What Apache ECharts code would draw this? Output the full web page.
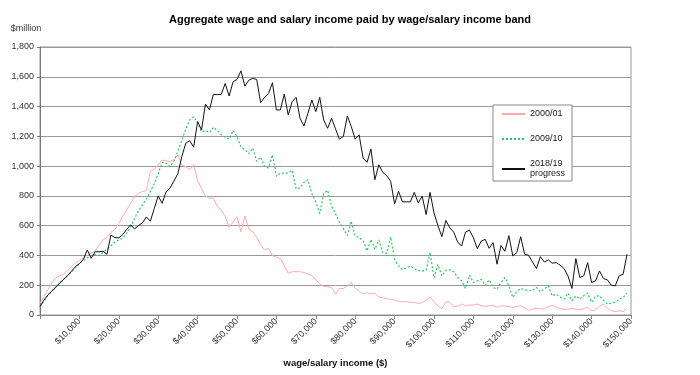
<!DOCTYPE html>
<html>
<head>
<meta charset="utf-8">
<script src="https://cdn.jsdelivr.net/npm/echarts@6/dist/echarts.min.js"></script>
<style>
  html, body { margin: 0; padding: 0; background: #fff; }
  #chart { width: 700px; height: 375px; }
</style>
</head>
<body>
<div id="chart"></div>
<script>
// income bands, $0 to $150,000 in $1,000 steps
const incomeBands = []
for (let k = 0; k <= 150; k++) {
  incomeBands.push('$' + (k * 1000).toLocaleString('en-US'))
}

const seriesNames = ['2000/01', '2009/10', '2018/19 progress']

// $million per band
const wage2000 = [78, 125, 170, 215, 250, 262, 275, 300, 325, 350,
  368, 381, 400, 415, 430, 470, 505, 520, 555, 575,
  615, 665, 705, 750, 795, 817, 830, 835, 965, 980,
  1007, 1041, 1035, 1030, 1045, 1075, 1007, 996, 975, 1010,
  900, 850, 800, 784, 784, 730, 705, 660, 590, 625,
  660, 559, 665, 575, 560, 520, 470, 437, 448, 400,
  387, 380, 330, 280, 291, 291, 291, 285, 275, 265,
  235, 210, 192, 190, 185, 140, 178, 178, 196, 220,
  180, 160, 140, 151, 141, 147, 120, 115, 110, 105,
  101, 92, 89, 90, 83, 85, 78, 83, 100, 122,
  90, 60, 42, 90, 85, 55, 58, 74, 62, 67,
  67, 74, 62, 58, 62, 67, 51, 62, 60, 56,
  51, 58, 62, 50, 30, 40, 45, 42, 40, 55,
  67, 50, 45, 36, 40, 45, 40, 36, 45, 51,
  29, 35, 60, 74, 45, 29, 22, 29, 22, 45]

const wage2009 = [55, 95, 130, 160, 190, 215, 240, 265, 290, 320,
  345, 365, 385, 400, 405, 400, 420, 445, 465, 490,
  505, 515, 550, 590, 650, 700, 740, 780, 830, 880,
  950, 1025, 1020, 996, 1035, 1100, 1175, 1250, 1310, 1332,
  1290, 1230, 1239, 1225, 1261, 1240, 1210, 1195, 1181, 1239,
  1199, 1127, 1110, 1083, 1121, 1032, 1061, 998, 987, 1076,
  931, 954, 951, 955, 971, 847, 853, 891, 909, 815,
  760, 682, 815, 838, 731, 680, 625, 580, 535, 630,
  530, 520, 500, 430, 508, 441, 504, 419, 414, 524,
  374, 330, 305, 315, 330, 310, 300, 295, 300, 420,
  250, 340, 262, 300, 303, 291, 252, 230, 178, 268,
  218, 230, 240, 200, 236, 185, 174, 218, 252, 196,
  118, 156, 178, 170, 163, 163, 185, 156, 175, 196,
  129, 140, 120, 107, 147, 96, 129, 107, 130, 147,
  85, 125, 129, 100, 74, 80, 85, 107, 118, 147]

const wage2018 = [58, 100, 135, 160, 185, 213, 240, 265, 295, 325,
  345, 374, 437, 381, 425, 425, 428, 408, 537, 520,
  518, 540, 575, 606, 578, 601, 619, 659, 630, 715,
  800, 750, 828, 852, 900, 950, 1065, 1154, 1170, 1127,
  1299, 1243, 1417, 1377, 1482, 1480, 1482, 1555, 1471, 1566,
  1582, 1640, 1537, 1577, 1589, 1582, 1426, 1462, 1488, 1560,
  1377, 1377, 1484, 1343, 1433, 1462, 1321, 1270, 1355, 1444,
  1366, 1462, 1310, 1254, 1321, 1250, 1181, 1199, 1337, 1266,
  1181, 1210, 1054, 1025, 1114, 909, 1009, 958, 936, 898,
  746, 831, 760, 760, 760, 824, 753, 798, 675, 824,
  686, 600, 526, 635, 586, 557, 490, 463, 557, 570,
  519, 446, 497, 508, 448, 486, 341, 467, 428, 533,
  397, 419, 526, 408, 401, 356, 312, 392, 356, 370,
  348, 352, 335, 312, 263, 178, 379, 252, 263, 352,
  218, 229, 296, 245, 236, 200, 196, 263, 274, 408]

const font = "'Liberation Sans', Arial, sans-serif"
const chart = echarts.init(document.getElementById('chart'))

const option = {
  animation: false,
  title: {
    text: 'Aggregate wage and salary income paid by wage/salary income band',
    left: 'center',
    top: 9,
    textStyle: { fontFamily: font, fontSize: 11, fontWeight: 'bold', color: '#000' }
  },
  legend: {
    orient: 'vertical',
    left: 493,
    top: 105,
    padding: [4, 7, 2, 8],
    itemGap: 15,
    itemWidth: 23,
    itemHeight: 12,
    backgroundColor: '#fff',
    borderColor: '#888',
    borderWidth: 1,
    itemStyle: { opacity: 0 },
    formatter: name => name.replace(' ', '\n'),
    textStyle: { fontFamily: font, fontSize: 9, color: '#222', lineHeight: 10 },
    data: seriesNames
  },
  grid: {
    left: 40,
    right: 69,
    top: 47,
    bottom: 60,
    show: true,
    borderColor: '#999',
    borderWidth: 1
  },
  xAxis: {
    type: 'category',
    data: incomeBands,
    boundaryGap: false,
    name: 'wage/salary income ($)',
    nameLocation: 'middle',
    nameGap: 43,
    nameTextStyle: { fontFamily: font, fontSize: 9.5, fontWeight: 'bold', color: '#111' },
    axisLine: { lineStyle: { color: '#888' } },
    axisTick: {
      length: 4,
      interval: index => index % 10 === 0,
      lineStyle: { color: '#888' }
    },
    axisLabel: {
      interval: index => index % 10 === 0 && index > 0,
      rotate: 45,
      margin: 5,
      fontFamily: font,
      fontSize: 9,
      color: '#333'
    },
    splitLine: { show: false }
  },
  yAxis: {
    type: 'value',
    min: 0,
    max: 1800,
    interval: 200,
    name: '$million',
    nameGap: 14,
    nameTextStyle: { fontFamily: font, fontSize: 9, color: '#333', padding: [0, 28, 0, 0] },
    axisLine: { show: true, lineStyle: { color: '#777' } },
    axisTick: { show: true, length: 3, lineStyle: { color: '#777' } },
    axisLabel: {
      fontFamily: font,
      fontSize: 9,
      color: '#333',
      margin: 6,
      formatter: v => v.toLocaleString('en-US')
    },
    splitLine: { lineStyle: { color: '#999', width: 1 } }
  },
  series: [
    {
      name: seriesNames[0],
      type: 'line',
      data: wage2000,
      symbol: 'none',
      itemStyle: { color: '#ffaaaa' },
      lineStyle: { color: '#ffaaaa', width: 1 }
    },
    {
      name: seriesNames[1],
      type: 'line',
      data: wage2009,
      symbol: 'none',
      itemStyle: { color: '#2ec65f' },
      lineStyle: { color: '#2ec65f', width: 1.2, type: [2, 2] }
    },
    {
      name: seriesNames[2],
      type: 'line',
      data: wage2018,
      symbol: 'none',
      itemStyle: { color: '#111' },
      lineStyle: { color: '#111', width: 1 }
    }
  ]
}

chart.setOption(option)
</script>
</body>
</html>
